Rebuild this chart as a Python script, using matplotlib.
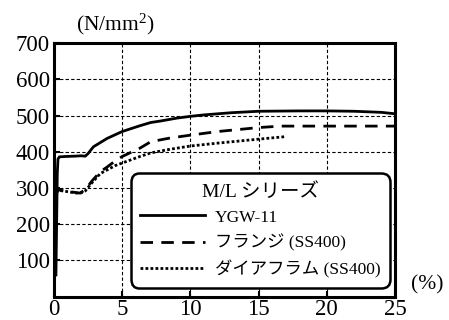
import matplotlib
matplotlib.use("Agg")
import matplotlib.pyplot as plt

plt.rcParams['font.family'] = ['Liberation Serif', 'Noto Sans CJK JP']
plt.rcParams['mathtext.fontset'] = 'custom'
plt.rcParams['mathtext.rm'] = 'Liberation Serif'
plt.rcParams['mathtext.default'] = 'rm'

# strain (%) and stress (N/mm2)
ygw_strain = [0.15, 0.2, 0.25, 0.3, 0.4, 0.8, 1.5, 2.0, 2.3, 2.5, 2.9, 3.9, 5.0, 6.3, 7.1, 7.8,
              9.0, 10.0, 11.0, 13.0, 15.0, 18.0, 20.0, 22.0, 24.0, 25.0]
ygw_stress = [60, 200, 340, 380, 386, 387, 388, 389, 388, 395, 414, 437, 456, 472, 481, 485,
              493, 498, 502, 508, 512, 513, 513, 512, 509, 505]

flange_strain = [0.05, 0.1, 0.15, 0.2, 0.3, 0.45, 1.0, 1.5, 1.9, 2.3, 2.8, 3.4, 3.9, 4.5,
                 5.0, 6.3, 7.1, 8.5, 10.0, 12.0, 15.0, 16.6, 20.0, 25.0]
flange_stress = [50, 150, 240, 285, 298, 294, 291, 288, 286, 295, 320, 345, 358, 375,
                 387, 410, 428, 438, 446, 456, 467, 471, 471, 471]

dia_strain = [0.05, 0.1, 0.15, 0.2, 0.3, 0.45, 1.0, 1.5, 1.9, 2.3, 2.8, 3.4, 3.9, 4.5,
              5.0, 6.3, 7.1, 8.5, 10.0, 12.0, 15.0, 17.0]
dia_stress = [40, 130, 220, 280, 295, 293, 290, 287, 285, 292, 315, 340, 350, 362,
              369, 387, 397, 407, 416, 424, 435, 442]

labels = ['YGW-11', 'フランジ (SS400)', 'ダイアフラム (SS400)']
legend_title = 'M/L シリーズ'
x_ticks = [0, 5, 10, 15, 20, 25]
y_ticks = [100, 200, 300, 400, 500, 600, 700]

fig = plt.figure(figsize=(4.49, 3.2), dpi=100)
ax = fig.add_axes([0.120, 0.073, 0.760, 0.792])

ax.plot(ygw_strain, ygw_stress, color='black', lw=2.0, label=labels[0])
ax.plot(flange_strain, flange_stress, color='black', lw=2.0, dashes=(4.5, 3), label=labels[1])
ax.plot(dia_strain, dia_stress, color='black', lw=2.0, dashes=(1, 0.8), label=labels[2])

ax.set_xlim(0, 25)
ax.set_ylim(0, 700)
ax.set_xticks(x_ticks)
ax.set_yticks(y_ticks)
ax.tick_params(direction='in', length=4, width=1.5, labelsize=16.5, pad=3)
ax.tick_params(axis='x', pad=2)
ax.grid(True, color='black', lw=0.8, linestyle=(0, (3, 2)))
for s in ax.spines.values():
    s.set_linewidth(2.2)

leg = ax.legend(title=legend_title, loc='lower right', bbox_to_anchor=(0.985, 0.034),
                borderaxespad=0, fontsize=12.5, title_fontsize=14, handlelength=3.75,
                handletextpad=0.55, labelspacing=0.5, borderpad=0.55, frameon=True,
                fancybox=True, framealpha=1, edgecolor='black')
leg.get_frame().set_linewidth(1.8)
leg.get_frame().set_boxstyle('round,pad=0,rounding_size=0.5')

ax.text(0.18, 1.075, '(N/mm$^2$)', transform=ax.transAxes, ha='center', va='center', fontsize=15.5)
ax.text(1.095, 0.045, '(%)', transform=ax.transAxes, ha='center', va='center', fontsize=15.5)

fig.savefig('out.png', dpi=100)
